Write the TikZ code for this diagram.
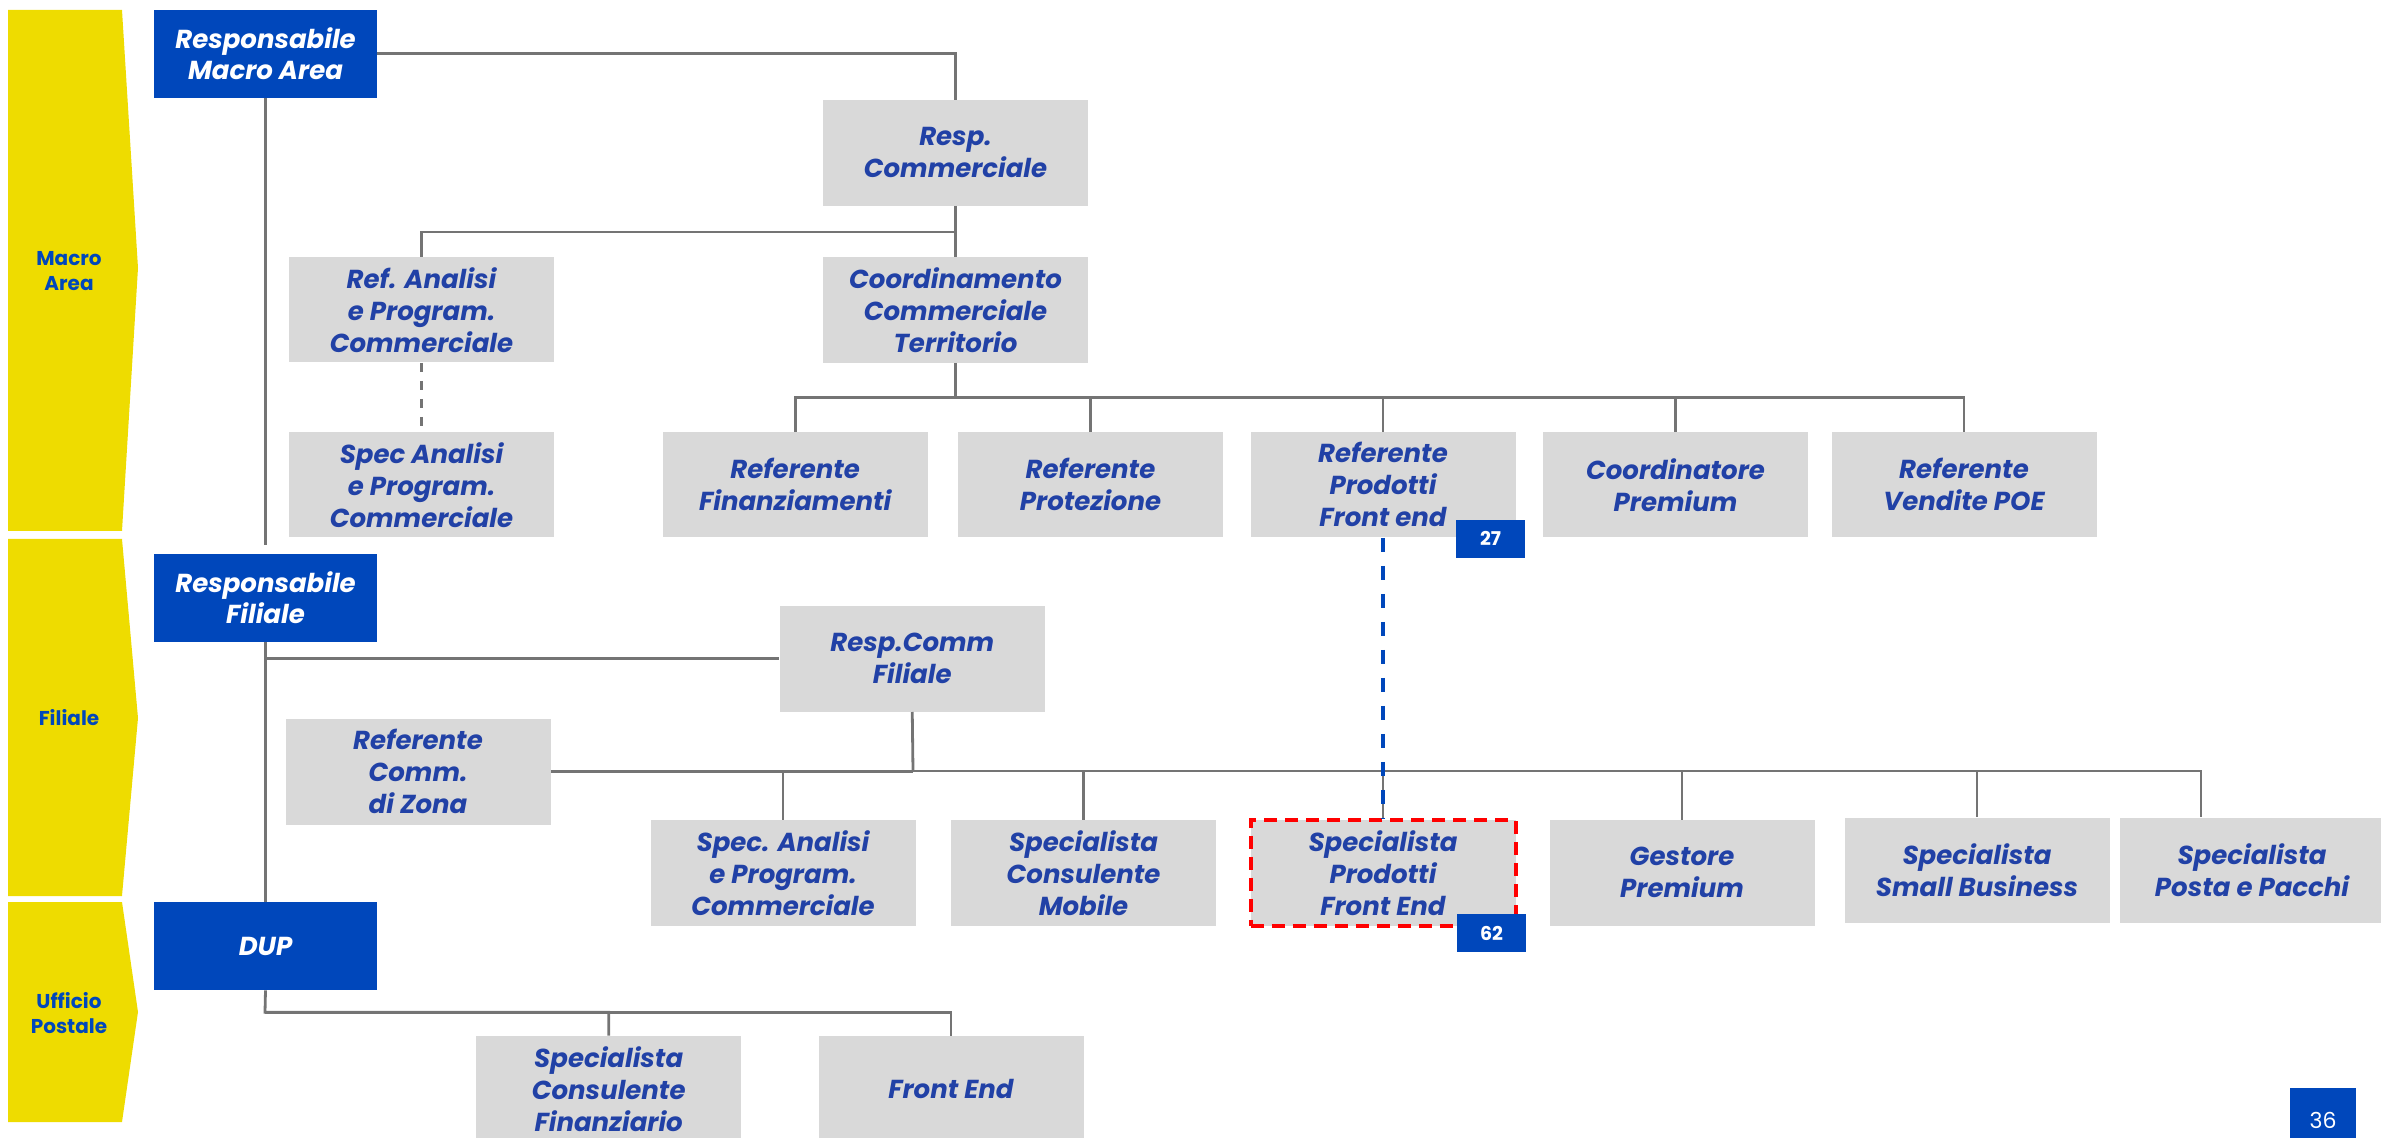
\documentclass[tikz,border=0pt]{standalone}
\usepackage{fontspec}
\setmainfont{Poppins}

\definecolor{pblue}{HTML}{0047BB}
\definecolor{pyellow}{HTML}{EEDC00}
\definecolor{pgray}{HTML}{D9D9D9}
\definecolor{ptext}{HTML}{2141A6}
\definecolor{pline}{HTML}{747474}

\begin{document}
\begin{tikzpicture}[x=0.5pt, y=-0.5pt,
    band/.style={fill=pyellow},
    bandlabel/.style={text=pblue, align=center, font=\fontsize{10}{12.5}\selectfont\bfseries},
    head/.style={fill=pblue, text=white, inner sep=0pt, minimum width=111.5pt, minimum height=44pt,
        align=center, font=\fontsize{13}{15.5}\selectfont\bfseries\itshape},
    role/.style={fill=pgray, text=ptext, inner sep=0pt, minimum width=132.5pt, minimum height=52.75pt,
        align=center, font=\fontsize{13}{16}\selectfont\bfseries\itshape},
    badge/.style={fill=pblue, text=white, inner sep=0pt, minimum width=34.5pt, minimum height=19pt,
        font=\fontsize{9.5}{12}\selectfont\bfseries},
    conn/.style={draw=pline, line width=1.4pt},
    dotted link/.style={draw=pline, line width=1.4pt, dash pattern=on 4.5pt off 4.5pt},
    fe link/.style={draw=pblue, line width=2pt, dash pattern=on 7pt off 7pt},
    fe box/.style={draw=red, line width=2pt, dash pattern=on 6.5pt off 4pt}]
    \useasboundingbox (0,0) rectangle (2381,1138);
    \clip (0,0) rectangle (2381,1138);

    % levels
    \fill[band] (8,10) -- (122,10) -- (138,268) -- (122,531) -- (8,531) -- cycle;
    \fill[band] (8,539) -- (122,539) -- (138,718) -- (122,896) -- (8,896) -- cycle;
    \fill[band] (8,902) -- (122,902) -- (138,1012) -- (122,1122) -- (8,1122) -- cycle;
    \node[bandlabel] (lmacro) at (69,271) {Macro\\Area};
    \node[bandlabel] (lfil) at (69,718) {Filiale};
    \node[bandlabel] (lup) at (69,1013) {Ufficio\\Postale};

    % macro area
    \node[head] (rma) at (265.5,53.75) {Responsabile\\Macro Area};
    \node[role] (rc) at (955.5,152.85) {Resp.\\Commerciale};
    \node[role] (rap) at (421.5,309.75) {Ref. Analisi\\e Program.\\Commerciale};
    \node[role] (cct) at (955.5,309.85) {Coordinamento\\Commerciale\\Territorio};
    \node[role] (sap) at (421.5,484.75) {Spec Analisi\\e Program.\\Commerciale};
    \node[role] (rfin) at (795.2,484.75) {Referente\\Finanziamenti};
    \node[role] (rprot) at (1090.5,484.75) {Referente\\Protezione};
    \node[role] (rpfe) at (1383,484.75) {Referente\\Prodotti\\Front end};
    \node[role] (cprem) at (1675.5,484.75) {Coordinatore\\Premium};
    \node[role] (rpoe) at (1964,484.75) {Referente\\Vendite POE};

    % filiale
    \node[head] (rf) at (265.5,598) {Responsabile\\Filiale};
    \node[role] (rcf) at (912.25,658.85) {Resp.Comm\\Filiale};
    \node[role] (rcz) at (418,771.85) {Referente\\Comm.\\di Zona};
    \node[role] (sap2) at (783,872.85) {Spec. Analisi\\e Program.\\Commerciale};
    \node[role] (scm) at (1083.5,872.85) {Specialista\\Consulente\\Mobile};
    \node[role, fe box] (spfe) at (1383,872.85) {Specialista\\Prodotti\\Front End};
    \node[role] (gprem) at (1682,872.85) {Gestore\\Premium};
    \node[role] (ssb) at (1977,870.5) {Specialista\\Small Business};
    \node[role] (spp) at (2252,870.5) {Specialista\\Posta e Pacchi};

    % ufficio postale
    \node[head] (dup) at (265.5,946) {DUP};
    \node[role] (scfin) at (608.7,1088.75) {Specialista\\Consulente\\Finanziario};
    \node[role] (fe) at (951,1088.75) {Front End};

    \coordinate (j1) at (955.5,232);
    \coordinate (j2) at (955.5,397.3);
    \coordinate (j3) at (913,771);
    \coordinate (j4) at (265,1012.3);

    \draw[conn] (rma.east) -| (rc.north);
    \draw[conn] (rc.south) -- (cct.north);
    \draw[conn] (rap.north) |- (j1);
    \draw[dotted link] (rap.south) -- (sap.north);
    \draw[conn] (rma.south) -- ([yshift=4.5pt]rf.north);
    \draw[conn] (cct.south) -- (j2);
    \foreach \n in {rfin, rprot, rpfe, cprem, rpoe}
        \draw[conn] (j2) -| (\n.north);

    \draw[conn] (rf.south) -- (dup.north);
    \draw[conn] (rf.south |- rcf.west) -- (rcf.west);
    \draw[conn] (rcf.south) -- (j3);
    \draw[conn] (rcz.east) -- (rcz.east -| j3);
    \foreach \n in {sap2, scm, spfe, gprem, ssb}
        \draw[conn] (j3) -| (\n.north);
    \draw[conn] (j3) -| ([xshift=-25.5pt]spp.north);

    \draw[conn] (dup.south) -- (j4) -| (scfin.north);
    \draw[conn] (j4) -| (fe.north);

    \draw[fe link] (rpfe.south) -- (spfe.north);

    \node[badge] (n27) at (1490.5,538.85) {27};
    \node[badge] (n62) at (1491.5,933) {62};

    % page number
    \node[fill=pblue, minimum width=33pt, minimum height=33pt, inner sep=0pt] (pg) at (2323,1121) {};
    \node[text=white, anchor=base, inner sep=0pt, font=\fontsize{11}{13}\selectfont] (pgn) at (2323,1128) {36};
\end{tikzpicture}
\end{document}
